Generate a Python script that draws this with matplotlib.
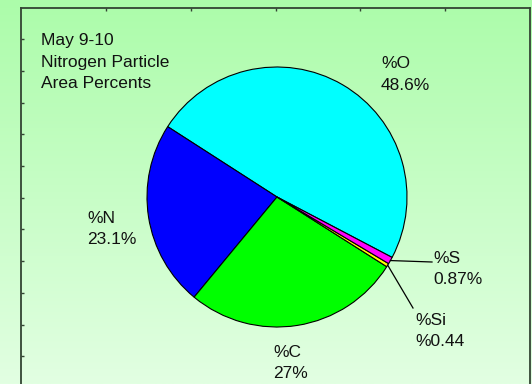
import matplotlib
matplotlib.use('Agg')
import matplotlib.pyplot as plt
import numpy as np

plt.rcParams['font.family'] = ['Liberation Sans', 'DejaVu Sans']

# data
elements = ['%O', '%N', '%C', '%Si', '%S']
percents = [48.6, 23.1, 27.0, 0.44, 0.87]
value_labels = ['48.6%', '23.1%', '27%', '%0.44', '0.87%']
slice_colors = ['#00ffff', '#0000ff', '#00ff00', '#ffff00', '#ff00ff']
title_lines = ['May 9-10', 'Nitrogen Particle', 'Area Percents']

W, H = 532, 384
fig = plt.figure(figsize=(W / 100, H / 100), dpi=100)

# full figure axes in pixel units (y up)
ax = fig.add_axes([0, 0, 1, 1])
ax.set_xlim(0, W)
ax.set_ylim(0, H)
ax.axis('off')

# background gradient
top = np.array([172, 252, 170]) / 255
bot = np.array([226, 255, 226]) / 255
t = np.linspace(0, 1, 256)[:, None]
grad = (top * (1 - t) + bot * t)[:, None, :]
ax.imshow(grad, extent=(0, W, 0, H), aspect='auto', zorder=0)

# frame with ticks
fr = fig.add_axes([21 / W, -4 / H, 509 / W, 380.5 / H])
fr.patch.set_alpha(0)
fr.set_xlim(0, 6)
fr.set_ylim(0, 12)
fr.set_xticks(range(1, 6))
fr.set_yticks(range(1, 12))
fr.xaxis.tick_top()
fr.tick_params(axis='both', direction='in', length=2.5, width=1.0,
               color='#334433', labelleft=False, labeltop=False,
               labelbottom=False, right=False, bottom=False)
for s in fr.spines.values():
    s.set_color('#334433')
    s.set_linewidth(1.3)
fr.spines['bottom'].set_visible(False)

# pie
cx, cy, r = 277, H - 197, 130
wedges, _ = ax.pie(percents, colors=slice_colors, startangle=-27.7,
                   counterclock=True, center=(cx, cy), radius=r,
                   wedgeprops=dict(edgecolor='black', linewidth=0.8),
                   frame=True)
for w in wedges:
    w.set_zorder(2)
ax.set_xlim(0, W)
ax.set_ylim(0, H)
ax.axis('off')

# labels: left x, first baseline (from top)
label_pos = [(381, 68), (87, 223), (273, 357), (415, 325), (433, 263)]
step = 21.5
fs = 12.5
for name, val, (lx, ly) in zip(elements, value_labels, label_pos):
    ax.text(lx, H - ly, name, ha='left', va='baseline', fontsize=fs, color='#111111', zorder=3)
    ax.text(lx, H - ly - step, val, ha='left', va='baseline', fontsize=fs, color='#111111', zorder=3)

# leader lines for the small slices
leader_end = {'%Si': (413, 308), '%S': (432, 262)}
for w, name in zip(wedges, elements):
    if name in leader_end:
        ang = np.deg2rad((w.theta1 + w.theta2) / 2)
        x0, y0 = cx + r * np.cos(ang), cy + r * np.sin(ang)
        ex, ey = leader_end[name]
        ax.plot([x0, ex], [y0, H - ey], color='black', linewidth=0.9, zorder=3)

# title
for i, line in enumerate(title_lines):
    ax.text(41, H - 45.5 - i * step, line, ha='left', va='baseline', fontsize=fs,
            color='#111111', zorder=3)

fig.savefig('out.png', dpi=100)
